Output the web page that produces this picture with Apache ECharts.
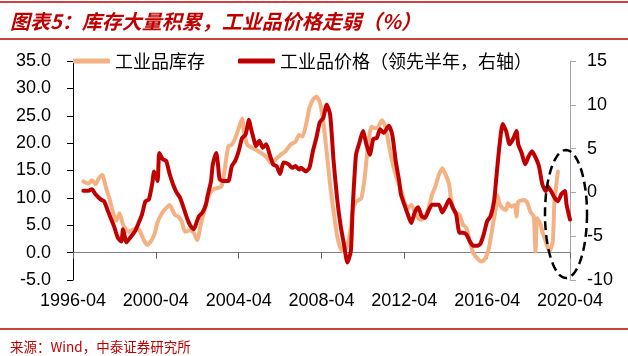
<!DOCTYPE html>
<html><head><meta charset="utf-8">
<script src="https://cdn.jsdelivr.net/npm/echarts@6/dist/echarts.min.js"></script>
<style>html,body{margin:0;padding:0;background:#fff}#c{width:628px;height:356px}</style>
</head><body><div id="c"></div>
<script>
// 工业品库存 (left axis)
const invDates = ['1996-10','1997-01','1997-03','1997-05','1997-07','1997-09','1997-11','1998-01','1998-03','1998-05','1998-07','1998-09','1998-12','1999-03','1999-05','1999-07','1999-09','1999-11','2000-01','2000-03','2000-05','2000-07','2000-09','2000-12','2001-03','2001-05','2001-07','2001-09','2001-12','2002-02','2002-04','2002-06','2002-08','2002-10','2003-01','2003-06','2003-08','2003-10','2003-12','2004-02','2004-04','2004-06','2004-07','2004-09','2004-12','2005-02','2005-05','2005-08','2005-11','2006-01','2006-04','2006-07','2006-10','2007-01','2007-03','2007-05','2007-07','2007-09','2007-11','2008-01','2008-03','2008-05','2008-07','2008-09','2008-11','2009-01','2009-03','2009-05','2009-07','2009-09','2009-10','2009-12','2010-03','2010-05','2010-07','2010-09','2010-11','2011-01','2011-03','2011-05','2011-07','2011-09','2011-11','2012-01','2012-03','2012-04','2012-06','2012-08','2012-10','2012-12','2013-02','2013-04','2013-06','2013-08','2013-10','2013-12','2014-02','2014-04','2014-06','2014-07','2014-09','2014-12','2015-02','2015-04','2015-06','2015-08','2015-11','2016-01','2016-03','2016-05','2016-07','2016-09','2016-10','2016-11','2017-01','2017-03','2017-04','2017-06','2017-08','2017-09','2017-10','2018-01','2018-03','2018-05','2018-07','2018-08','2018-09','2018-11','2018-12','2019-02','2019-04','2019-06','2019-07','2019-09'];
const invValues = [13.0,12.6,13.2,12.5,13.6,14.2,12.0,10.0,7.6,5.8,7.2,5.1,3.8,4.2,4.5,3.8,2.3,1.4,2.0,3.2,5.5,6.9,7.8,8.7,6.9,6.6,5.7,3.8,4.1,3.6,2.3,5.1,7.5,9.9,11.5,12.1,15.4,19.4,19.7,20.9,22.7,24.5,22.1,19.7,19.1,18.8,18.2,17.5,16.3,16.9,17.8,18.5,19.7,20.3,21.5,21.2,23.3,26.4,27.9,28.5,27.5,24.0,18.4,12.4,7.5,3.2,0.8,0.2,1.4,4.5,7.5,9.3,9.9,13.6,19.7,23.0,22.7,23.0,24.2,23.0,19.7,16.6,14.2,12.4,10.5,9.3,8.1,8.7,7.5,6.3,6.0,6.6,8.1,10.5,12.1,14.2,15.4,14.2,12.4,9.9,7.5,6.9,5.1,4.5,2.0,-0.1,-1.3,-1.6,-1.0,0.8,4.5,8.1,10.5,9.0,8.1,7.8,9.0,8.4,8.7,6.6,9.3,9.6,9.3,7.5,6.6,0.2,6.3,5.1,3.8,2.0,0.2,2.0,9.3,14.8];

// 工业品价格（领先半年，右轴）
const priceDates = ['1996-10','1997-01','1997-03','1997-05','1997-08','1997-10','1997-12','1998-02','1998-04','1998-06','1998-08','1998-09','1998-11','1999-01','1999-04','1999-06','1999-08','1999-10','1999-12','2000-02','2000-03','2000-05','2000-06','2000-08','2000-10','2000-12','2001-02','2001-04','2001-06','2001-08','2001-10','2001-12','2002-02','2002-04','2002-05','2002-07','2002-09','2002-10','2002-12','2003-01','2003-03','2003-04','2003-05','2003-07','2003-10','2003-12','2004-02','2004-04','2004-06','2004-08','2004-10','2004-11','2005-01','2005-02','2005-04','2005-06','2005-08','2005-10','2005-12','2006-02','2006-04','2006-06','2006-09','2006-11','2007-01','2007-03','2007-04','2007-07','2007-09','2007-11','2008-01','2008-03','2008-05','2008-07','2008-09','2008-11','2009-01','2009-03','2009-05','2009-07','2009-09','2009-10','2009-12','2010-02','2010-04','2010-06','2010-08','2010-10','2010-12','2011-02','2011-04','2011-07','2011-09','2011-11','2012-01','2012-02','2012-04','2012-06','2012-08','2012-10','2012-12','2013-02','2013-04','2013-06','2013-08','2013-10','2013-12','2014-02','2014-04','2014-06','2014-08','2014-10','2014-12','2015-02','2015-04','2015-06','2015-08','2015-10','2015-12','2016-02','2016-04','2016-06','2016-08','2016-09','2016-11','2017-01','2017-03','2017-05','2017-07','2017-09','2017-10','2017-12','2018-02','2018-04','2018-06','2018-08','2018-10','2018-12','2019-02','2019-03','2019-05','2019-07','2019-09','2019-11','2020-01','2020-02','2020-04'];
const priceValues = [0.2,0.2,0.35,-0.2,-0.8,-1.0,-2.0,-3.0,-4.0,-5.2,-5.6,-4.2,-5.7,-5.2,-4.4,-3.5,-2.5,-1.0,-0.8,1.1,2.4,1.3,4.5,3.8,3.6,2.1,0.9,0.0,-0.6,-1.7,-2.9,-3.8,-4.2,-3.2,-2.7,-2.3,-1.4,-0.4,1.3,3.2,4.5,3.2,1.5,1.3,1.3,3.0,3.6,4.7,6.2,6.6,8.3,7.4,5.9,5.3,5.9,5.1,5.5,4.3,3.2,3.0,2.1,3.4,3.2,2.8,3.0,2.6,2.8,2.4,2.8,4.7,6.2,8.0,8.5,10.0,8.9,3.6,-0.6,-3.7,-5.9,-8.0,-6.7,-2.1,4.3,5.7,7.0,5.5,4.3,6.1,6.2,7.2,6.8,7.6,6.6,3.6,1.3,-0.2,-1.4,-2.5,-3.5,-2.3,-1.7,-2.7,-2.9,-2.1,-1.4,-1.4,-1.4,-2.3,-1.6,-0.8,-1.7,-2.5,-4.6,-4.6,-4.8,-5.6,-6.1,-6.1,-5.9,-4.8,-3.3,-2.7,-1.0,1.0,5.1,7.8,7.0,5.5,6.1,7.0,5.5,4.5,3.2,4.1,4.7,4.0,3.0,0.9,0.15,0.7,0.15,-0.6,-1.0,-0.2,0.15,-1.4,-3.1];

const xTickLabels = ['1996-04','2000-04','2004-04','2008-04','2012-04','2016-04','2020-04'];
const seriesNames = ['工业品库存','工业品价格（领先半年，右轴）'];

function monthIndex(s){ const p = s.split('-').map(Number); return (p[0]-1996)*12 + (p[1]-4); }
const invData = invDates.map((d,i)=>[monthIndex(d), invValues[i]]);
const priceData = priceDates.map((d,i)=>[monthIndex(d), priceValues[i]]);

const chart = echarts.init(document.getElementById('c'), null, {renderer:'canvas'});
const numFont = 'Liberation Sans, Arial, sans-serif';
const cjk = 'Noto Sans CJK SC, sans-serif';

// ellipse annotation points
const ell = [];
for (let k=0;k<96;k++){ const t=k/96*2*Math.PI; ell.push([566+21*Math.cos(t), 214+64*Math.sin(t)]); }

chart.setOption({
  animation:false,
  grid:{left:73,right:58,top:61,bottom:76,containLabel:false},
  legend:{
    left:73, top:52, padding:0, icon:'roundRect', itemWidth:37, itemHeight:5, itemGap:33,
    data:seriesNames,
    textStyle:{fontFamily:cjk,fontSize:18,color:'#000'}
  },
  xAxis:{
    type:'value', min:0, max:288, interval:48,
    axisLine:{show:true,onZero:true,onZeroAxisIndex:0,lineStyle:{color:'#808080',width:1}},
    axisTick:{show:true,inside:false,length:6,lineStyle:{color:'#606060'}},
    axisLabel:{margin:12,fontFamily:numFont,fontSize:18,color:'#000',
      formatter:v=>xTickLabels[Math.round(v/48)]||''},
    splitLine:{show:false}
  },
  yAxis:[{
    type:'value', min:-5, max:35, interval:5, position:'left',
    axisLine:{show:true,lineStyle:{color:'#000',width:1}},
    axisTick:{show:true,length:6,lineStyle:{color:'#000'}},
    axisLabel:{margin:22,fontFamily:numFont,fontSize:18,color:'#000',formatter:v=>v.toFixed(1)},
    splitLine:{show:false}
  },{
    type:'value', min:-10, max:15, interval:5, position:'right',
    axisLine:{show:true,lineStyle:{color:'#A6A6A6',width:1}},
    axisTick:{show:true,length:6,lineStyle:{color:'#A6A6A6'}},
    axisLabel:{margin:17,fontFamily:numFont,fontSize:18,color:'#000'},
    splitLine:{show:false}
  }],
  series:[{
    name:seriesNames[0], type:'line', yAxisIndex:0, data:invData,
    showSymbol:false, symbol:'none', smooth:0.2, color:'#F4B183',
    lineStyle:{width:4,color:'#F4B183',cap:'round',join:'round'}, z:2
  },{
    name:seriesNames[1], type:'line', yAxisIndex:1, data:priceData,
    showSymbol:false, symbol:'none', smooth:0.2, color:'#C00000',
    lineStyle:{width:4,color:'#C00000',cap:'round',join:'round'}, z:3
  }],
  graphic:[
    {type:'line',shape:{x1:0,y1:2,x2:628,y2:2},style:{stroke:'#C00000',lineWidth:1.5},silent:true},
    {type:'text',style:{x:10,y:21,text:'图表5：库存大量积累，工业品价格走弱（%）',fill:'#C00000',
      fontFamily:cjk,fontSize:20,fontWeight:'bold',fontStyle:'italic',verticalAlign:'middle',align:'left'},silent:true},
    {type:'line',shape:{x1:0,y1:39,x2:628,y2:39},style:{stroke:'#C00000',lineWidth:1.5},silent:true},
    {type:'line',shape:{x1:0,y1:329,x2:628,y2:329},style:{stroke:'#C00000',lineWidth:1.5},silent:true},
    {type:'text',style:{x:10,y:347,text:'来源：Wind，中泰证券研究所',fill:'#C00000',
      fontFamily:cjk,fontSize:13.5,verticalAlign:'middle',align:'left'},silent:true},
    {type:'polygon',z:100,shape:{points:ell},style:{fill:'none',stroke:'#000',lineWidth:2.5,lineDash:[9,5]},silent:true}
  ]
});
</script>
</body></html>
